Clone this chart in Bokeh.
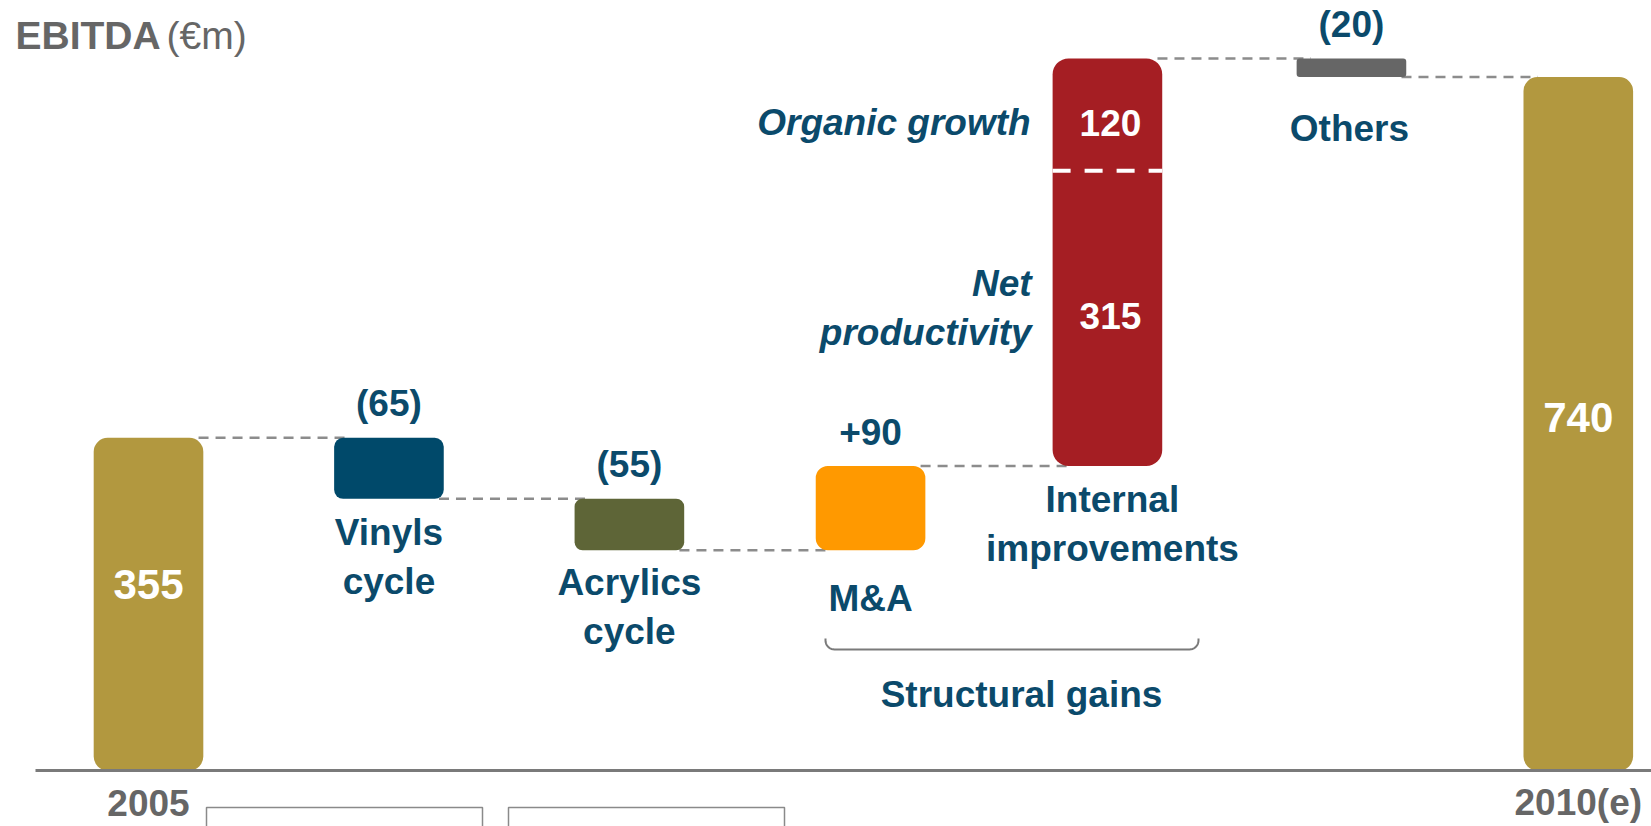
import math
from bokeh.plotting import figure
from bokeh.models import Range1d
from bokeh.core.properties import value
from bokeh.embed import file_html
from bokeh.resources import INLINE

# ---------------- data ----------------
steps = ["2005", "Vinyls\ncycle", "Acrylics\ncycle", "M&A", "Internal\nimprovements", "Others", "2010(e)"]
start_ebitda = 355
end_ebitda = 740
internal_parts = [315, 120]
internal_part_labels = ["315", "120"]
internal_part_names = ["Net\nproductivity", "Organic growth"]
changes = [-65, -55, 90, sum(internal_parts), -20]
change_labels = ["(65)", "(55)", "+90", "", "(20)"]
total_labels = ["355", "740"]
group_label = "Structural gains"
title_bold = "EBITDA"
title_unit = "(€m)"

# ---------------- layout / styles ----------------
slot_x = [0.0, 1.009, 2.018, 3.03, 4.024, 5.048, 6.0]
FONT = value("Liberation Sans")
NAVY = "#0B4A6B"
GREY_TXT = "#666666"
bar_colors = ["#B2983F", "#00496A", "#5E6537", "#FF9900", "#A51E23", "#666666", "#B2983F"]
bar_radius = [14, 9, 8, 12, 16, 3, 14]
HW = 0.23  # half bar width (slot units)
FS = "37px"

# screen mapping helpers (layout only)
X0, DX, Y0, KY = 148.0, 238.3, 770.0, 0.937
def sx(px):
    return (px - X0) / DX
def sy(py):
    return (Y0 - py) / KY

W, H = 1651, 826
p = figure(width=W, height=H, output_backend="svg", toolbar_location=None,
           x_range=Range1d(sx(0), sx(W)), y_range=Range1d(sy(H), sy(0)),
           min_border=0, outline_line_color=None, x_axis_location=None, y_axis_location=None)
p.grid.visible = False
p.background_fill_color = "white"

# waterfall levels
levels = [start_ebitda]
for c in changes:
    levels.append(levels[-1] + c)
xs = slot_x
n = len(steps)
bottoms = [0] + [min(levels[i], levels[i + 1]) for i in range(len(changes))] + [0]
tops = [start_ebitda] + [max(levels[i], levels[i + 1]) for i in range(len(changes))] + [end_ebitda]

# boxes at bottom (cut off)
p.quad(left=[sx(206), sx(508)], right=[sx(482), sx(784)], bottom=[sy(870)] * 2, top=[sy(807)] * 2,
       fill_color=None, line_color="#8A8A8A", line_width=1.5)

# connectors
conn_x0 = [xs[i] + HW - 0.02 for i in range(len(levels))]
conn_x1 = [xs[i + 1] - HW + 0.06 for i in range(len(levels))]
p.segment(x0=conn_x0, x1=conn_x1, y0=levels, y1=levels, line_color="#8C8C8C",
          line_width=2.5, line_dash="10 7")

# bars
for i in range(n):
    p.vbar(x=[xs[i]], width=2 * HW, bottom=[bottoms[i]], top=[tops[i]],
           fill_color=bar_colors[i], line_color=None, border_radius=bar_radius[i])

# divider inside internal bar
internal_i = 4
xi = xs[internal_i]
split = levels[3] + internal_parts[0]
p.segment(x0=[xi - HW], x1=[xi + HW], y0=[split], y1=[split],
          line_color="white", line_width=4, line_dash="18 14")

# baseline
p.segment(x0=[sx(35)], x1=[sx(1660)], y0=[0], y1=[0], line_color="#7A7A7A", line_width=3)

common = dict(text_font=FONT, text_font_style="bold", text_align="center", text_baseline="middle")

# change labels above bars
lab_x = [xs[i + 1] for i in range(len(changes)) if change_labels[i]]
lab_y = [tops[i + 1] for i in range(len(changes)) if change_labels[i]]
lab_t = [change_labels[i] for i in range(len(changes)) if change_labels[i]]
p.text(x=lab_x, y=lab_y, text=lab_t, text_color=NAVY, text_font_size=FS, y_offset=-34, **common)

# step names below bars
name_offsets = [58, 57, 48, 58, 51]
name_xoff = [0, 0, 0, 5, -2]
for i in range(1, n - 1):
    p.text(x=[xs[i]], y=[bottoms[i]], text=[steps[i]], text_color=NAVY, text_font_size=FS,
           y_offset=name_offsets[i - 1], x_offset=name_xoff[i - 1], text_line_height=1.2, **common)

# totals
p.text(x=[xs[0], xs[-1]], y=[start_ebitda / 2, end_ebitda / 2], text=total_labels,
       text_color="white", text_font_size="42px", y_offset=[-20, -6], **common)
p.text(x=[xs[0], xs[-1]], y=[0, 0], text=[steps[0], steps[-1]], text_color=GREY_TXT,
       text_font_size=FS, y_offset=32, **common)

# internal parts
part_mid = [levels[3] + internal_parts[0] / 2, split + internal_parts[1] / 2]
part_off = [-2, 8]
for k in range(2):
    p.text(x=[xi], y=[part_mid[k]], text=[internal_part_labels[k]], text_color="white",
           text_font_size=FS, y_offset=part_off[k], x_offset=3, **common)
name_off = [-10, 8]
name_x = [-21, -22]
for k in range(2):
    p.text(x=[xi - HW], y=[part_mid[k]], text=[internal_part_names[k]], text_color=NAVY,
           text_font_size=FS, y_offset=name_off[k], x_offset=name_x[k], text_font=FONT,
           text_font_style="bold italic", text_align="right", text_baseline="middle",
           text_line_height=1.2)

# bracket under M&A + internal
yb_px, ye_px, r = 649, 638, 9
bx, by = [825], [ye_px]
for a in range(0, 91, 10):
    t = math.radians(a)
    bx.append(825 + r - r * math.cos(t)); by.append(yb_px - r + r * math.sin(t))
for a in range(90, -1, -10):
    t = math.radians(a)
    bx.append(1198 - r + r * math.cos(t)); by.append(yb_px - r + r * math.sin(t))
bx.append(1198); by.append(ye_px)
p.line(x=[sx(v) for v in bx], y=[sy(v) for v in by], line_color="#7A7A7A", line_width=2)
p.text(x=[sx(1021)], y=[sy(694)], text=[group_label], text_color=NAVY, text_font_size=FS, **common)

# title
p.text(x=[sx(15)], y=[sy(35)], text=[title_bold], text_color=GREY_TXT, text_font_size="39px",
       text_font=FONT, text_font_style="bold", text_align="left", text_baseline="middle")
p.text(x=[sx(166)], y=[sy(35)], text=[title_unit], text_color=GREY_TXT, text_font_size="39px",
       text_font=FONT, text_font_style="normal", text_align="left", text_baseline="middle")

open("out.html", "w").write(file_html(p, INLINE))
